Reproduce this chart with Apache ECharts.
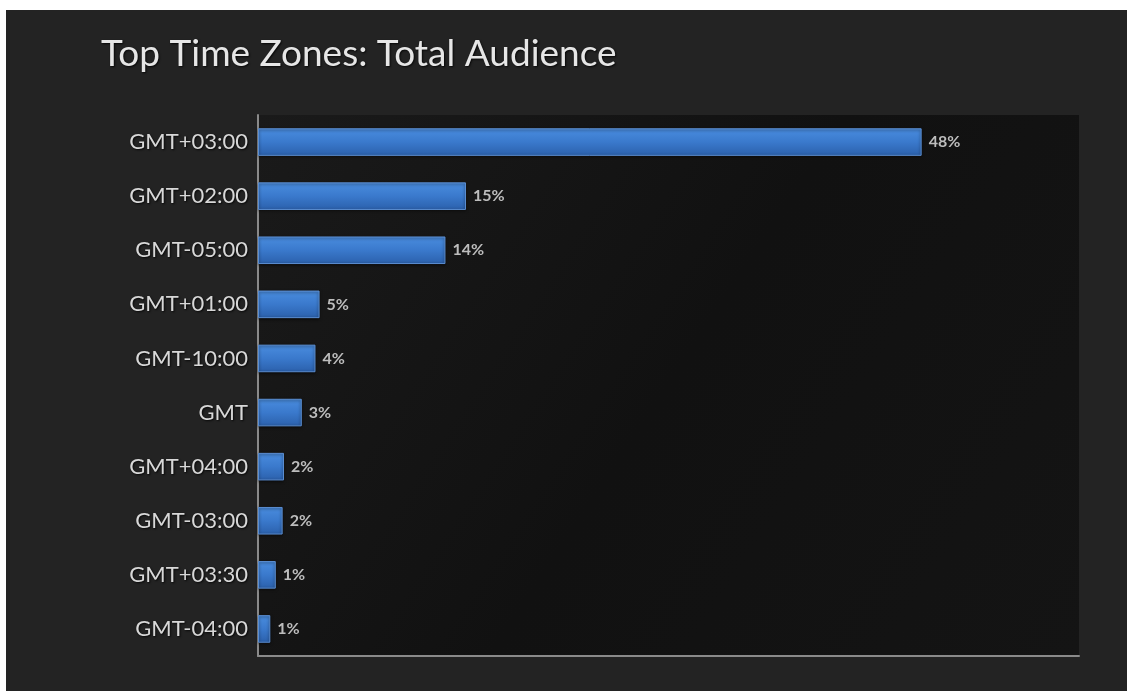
<!DOCTYPE html>
<html>
<head>
<meta charset="utf-8">
<script src="https://cdn.jsdelivr.net/npm/echarts@6/dist/echarts.min.js"></script>
<style>
html,body{margin:0;padding:0;background:#ffffff;}
#wrap{position:absolute;left:6px;top:10px;width:1121px;height:681px;background:#232323;}
#chart{width:1128px;height:691px;position:absolute;left:0;top:0;}
</style>
</head>
<body>
<div id="wrap"></div>
<div id="chart"></div>
<script>
const titleText = 'Top Time Zones: Total Audience';
const categories = ['GMT+03:00','GMT+02:00','GMT-05:00','GMT+01:00','GMT-10:00','GMT','GMT+04:00','GMT-03:00','GMT+03:30','GMT-04:00'];
const values = [48.5, 15.2, 13.7, 4.5, 4.2, 3.2, 1.9, 1.8, 1.3, 0.9];
const valueLabels = ['48%','15%','14%','5%','4%','3%','2%','2%','1%','1%'];

const chart = echarts.init(document.getElementById('chart'), null, {renderer:'canvas'});
chart.setOption({
  backgroundColor: 'transparent',
  title: {
    text: titleText,
    left: 96, top: 31,
    textStyle: {color:'#e6e6e6', fontFamily:'Lato', fontWeight:'normal', fontSize:37,
      textShadowColor:'rgba(0,0,0,0.8)', textShadowBlur:2, textShadowOffsetX:1, textShadowOffsetY:1}
  },
  grid: {
    left: 258, right: 49, top: 115, bottom: 35, show: true, borderWidth: 0,
    backgroundColor: new echarts.graphic.LinearGradient(0,0,1,1,[
      {offset:0, color:'#1a1a1a'},
      {offset:0.5, color:'#111111'},
      {offset:1, color:'#141414'}
    ])
  },
  xAxis: {
    type: 'value', min: 0, max: 60,
    axisLine: {show:true, lineStyle:{color:'#8a8a8a', width:2}},
    axisTick: {show:false}, axisLabel: {show:false}, splitLine: {show:false}
  },
  yAxis: {
    type: 'category', data: categories, inverse: true,
    axisLine: {show:true, lineStyle:{color:'#8a8a8a', width:2}},
    axisTick: {show:false},
    axisLabel: {color:'#d8d8d8', fontFamily:'Lato', fontSize:22, margin:10,
      textShadowColor:'rgba(0,0,0,0.8)', textShadowBlur:2, textShadowOffsetX:1, textShadowOffsetY:1}
  },
  series: [{
    type: 'bar', data: values, barWidth: '51%',
    itemStyle: {
      color: new echarts.graphic.LinearGradient(0,0,0,1,[
        {offset:0, color:'#4a8ddf'},
        {offset:0.5, color:'#3a79cc'},
        {offset:1, color:'#2b60ab'}
      ]),
      borderColor:'#5b8ed2', borderWidth:1,
      shadowColor:'rgba(0,0,0,0.6)', shadowBlur:3, shadowOffsetY:1
    },
    label: {
      show: true, position: 'right', distance: 7,
      color:'#bdbdbd', fontFamily:'Lato', fontSize:16, fontWeight:'bold',
      formatter: p => valueLabels[p.dataIndex]
    }
  }]
});
</script>
</body>
</html>
